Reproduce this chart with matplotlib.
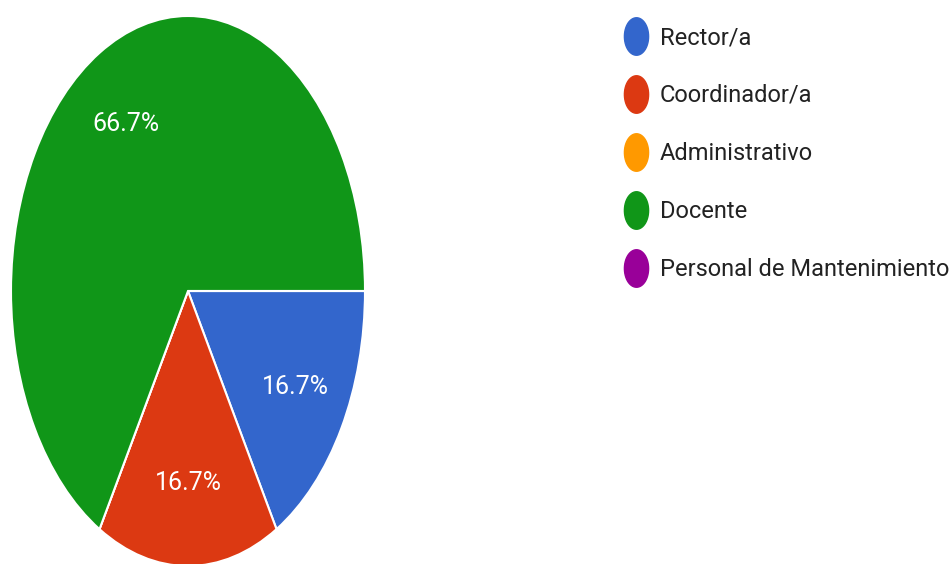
import matplotlib
matplotlib.use("Agg")
import matplotlib.pyplot as plt
import numpy as np
from matplotlib.lines import Line2D
from matplotlib.path import Path

categories = ["Rector/a", "Coordinador/a", "Administrativo", "Docente", "Personal de Mantenimiento"]
values = [1, 1, 0, 4, 0]
colors = ["#3366cc", "#dc3912", "#ff9900", "#109618", "#990099"]

FONT = ["Roboto", "DejaVu Sans"]
FS = 17
px = FS * 100 / 72

W, H = 952, 564
fig = plt.figure(figsize=(W / 100, H / 100), dpi=100)

# pie axes (stretched ellipse like the reference)
left, right, top, bottom = 11, 365, 16, 566
ax = fig.add_axes([left / W, (H - bottom) / H, (right - left) / W, (bottom - top) / H])

def fmt(p):
    return f"{p:.1f}%" if p > 0 else ""

wedges, texts, autotexts = ax.pie(values, colors=colors, startangle=0, counterclock=False,
                                  autopct=fmt, pctdistance=0.7,
                                  wedgeprops=dict(edgecolor="white", linewidth=1.5),
                                  textprops=dict(color="white", fontsize=FS + 1, family=FONT))
ax.set_aspect("auto")
ax.set_xlim(-1, 1)
ax.set_ylim(-1, 1)
ax.axis("off")

# ellipse marker for legend (vertically stretched circle)
t = np.linspace(0, 2 * np.pi, 60)
verts = np.column_stack([0.5 * np.cos(t), 0.775 * np.sin(t)])
ell = Path(verts, closed=True)

handles = [Line2D([0], [0], marker=ell, linestyle="none", markersize=27,
                  markerfacecolor=c, markeredgecolor=c) for c in colors]
fig.legend(handles, categories, loc="upper left",
           bbox_to_anchor=(622 / W, 1 - 26 / H), bbox_transform=fig.transFigure,
           frameon=False, prop=dict(family=FONT, size=FS),
           handlelength=28 / px, handletextpad=10 / px, labelspacing=1.48,
           borderpad=0, borderaxespad=0, labelcolor="#222222")

fig.savefig("out.png", dpi=100, facecolor="white")
